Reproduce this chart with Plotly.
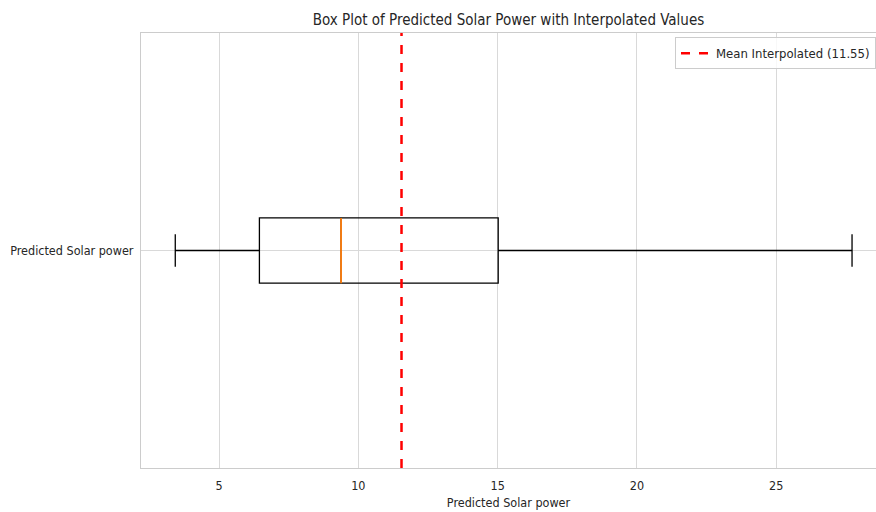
import plotly.graph_objects as go

# Data
category = ["Predicted Solar power"]
lower_whisker = [3.43]
q1 = [6.45]
median = [9.38]
q3 = [15.02]
upper_whisker = [27.72]
mean_interpolated = 11.55
x_ticks = [5, 10, 15, 20, 25]

FONT = "DejaVu Sans Condensed, DejaVu Sans, sans-serif"
pos = 1.0
box_w = 0.15

fig = go.Figure()

fig.add_trace(go.Box(
    y=[pos], q1=q1, median=median, q3=q3,
    lowerfence=lower_whisker, upperfence=upper_whisker,
    orientation="h", width=box_w, whiskerwidth=0.5,
    line=dict(color="black", width=1.3), fillcolor="rgba(0,0,0,0)",
    boxpoints=False, showlegend=False, hoverinfo="skip",
))

# orange median line
fig.add_trace(go.Scatter(
    x=[median[0], median[0]], y=[pos - box_w / 2, pos + box_w / 2],
    mode="lines", line=dict(color="#ff7f0e", width=1.8),
    showlegend=False, hoverinfo="skip",
))

# mean line
fig.add_trace(go.Scatter(
    x=[mean_interpolated, mean_interpolated], y=[0.5, 1.5],
    mode="lines", line=dict(color="red", width=2.5, dash="dash"),
    name=f"Mean Interpolated ({mean_interpolated:.2f})",
))

fig.update_layout(
    width=876, height=512,
    margin=dict(l=141, r=0, t=33, b=44, autoexpand=False),
    paper_bgcolor="white", plot_bgcolor="white",
    font=dict(family=FONT, size=12.5, color="#262626"),
    title=dict(text="Box Plot of Predicted Solar Power with Interpolated Values",
               x=0.5, xanchor="center", xref="paper", y=0.962, yanchor="middle",
               font=dict(size=15, color="#262626")),
    xaxis=dict(range=[2.2, 28.58], tickvals=x_ticks, ticktext=[str(t) for t in x_ticks],
               showgrid=True, gridcolor="#d9d9d9", gridwidth=1, zeroline=False,
               showline=True, linecolor="#cccccc", linewidth=1, mirror=True,
               ticks="", ticklabelstandoff=6,
               title=dict(text="Predicted Solar power", font=dict(size=12.5), standoff=6)),
    yaxis=dict(range=[0.5, 1.5], tickvals=[pos], ticktext=category,
               showgrid=True, gridcolor="#d9d9d9", gridwidth=1, zeroline=False,
               showline=True, linecolor="#cccccc", linewidth=1, mirror=True,
               ticks="", ticklabelstandoff=4),
    legend=dict(x=1.0, xanchor="right", y=0.99, yanchor="top",
                bgcolor="rgba(255,255,255,0.8)", bordercolor="#cccccc", borderwidth=1,
                font=dict(size=13), itemwidth=30),
)

fig.write_html("out.html")
